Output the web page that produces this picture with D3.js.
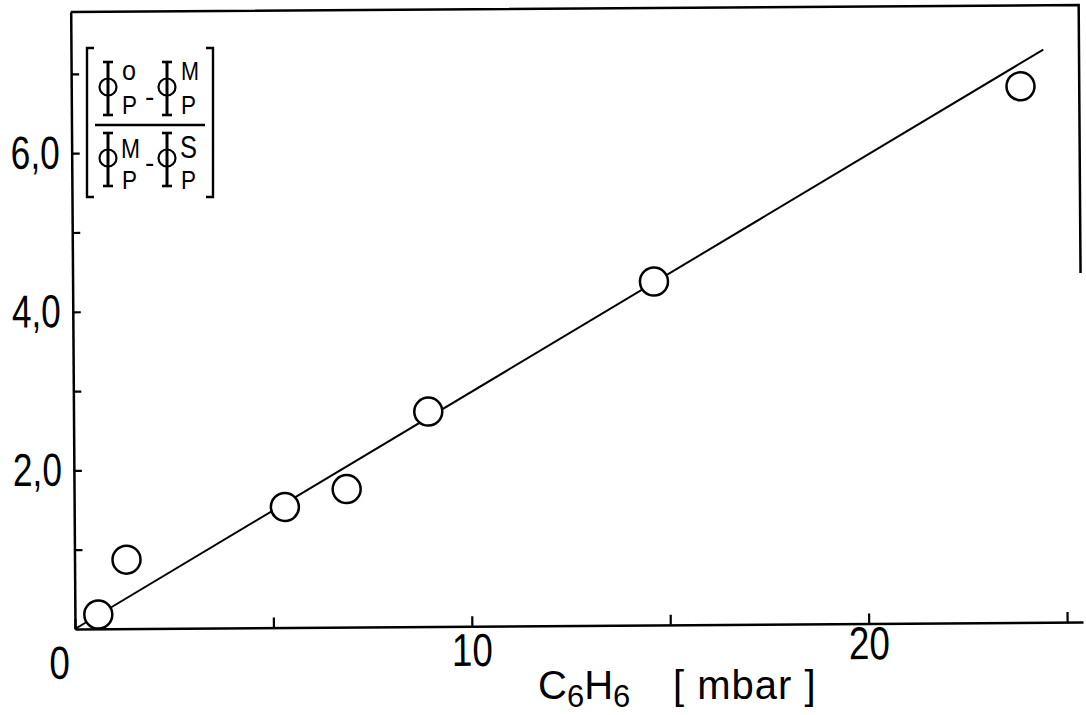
<!DOCTYPE html>
<meta charset="utf-8">
<style>
body { margin: 0; background: #fff; }
svg { display: block; }
.axis path { stroke: #000; stroke-width: 2.5px; fill: none; }
.axis line { stroke: #000; stroke-width: 2.2px; }
.axis text { font-family: "Liberation Sans", sans-serif; font-size: 46px; fill: #000; }
.frame { fill: none; stroke: #000; stroke-width: 2.5px; }
.fitline { fill: none; stroke: #000; stroke-width: 2px; }
.dot { fill: #fff; stroke: #000; stroke-width: 2.5px; }
.legend line, .legend path { stroke: #000; fill: none; }
.legend circle { fill: none; stroke: #000; stroke-width: 2.2px; }
.legend text, .title { font-family: "Liberation Sans", sans-serif; fill: #000; }
</style>
<body>
<script src="https://d3js.org/d3.v7.min.js"></script>
<script>

// measured points: benzene pressure (mbar) and the yield ratio
var pressure = [0.59, 1.31, 5.31, 6.87, 8.94, 14.65, 23.92];
var ratio    = [0.18, 0.87, 1.52, 1.74, 2.71, 4.33, 6.76];

// straight line drawn through the points
var fitX = [0, 24.5];
var fitY = [0, 7.22];

// ticks and labels
var xTicks  = [0, 5, 10, 15, 20, 25];
var xLabels = [0, 10, 20];
var yTicks  = [1, 2, 3, 4, 5, 6, 7];
var yLabels = [2, 4, 6];

var width = 1086, height = 715;

var x = d3.scaleLinear().domain([0, 25.4]).range([75, 1083]);
var y = d3.scaleLinear().domain([0, 7.78]).range([629, 12]);

// the lettering is a narrow stencil face: squeeze the glyphs to its widths
function narrow(s) {
  s = String(s);
  var w = 0;
  for (var i = 0; i < s.length; i++) w += s[i] === "," ? 8 : 20.5;
  return w;
}

var svg = d3.select("body").append("svg")
    .attr("width", width)
    .attr("height", height);

// the scanned figure sits slightly crooked on the page
var plot = svg.append("g")
    .attr("transform", "rotate(-0.4," + x(0) + "," + y(0) + ")");

// x axis, ticks pointing inward; the hand-lettered labels are not quite level
plot.append("g")
    .attr("class", "axis")
    .attr("transform", "translate(0," + y(0) + ")")
    .call(d3.axisBottom(x)
        .tickValues(xTicks)
        .tickSizeInner(-10)
        .tickSizeOuter(0)
        .tickPadding(7)
        .tickFormat(function(d) { return xLabels.indexOf(d) >= 0 ? d : ""; }))
  .selectAll(".tick text")
    .attr("dx", function(d) { return d === 0 ? -16 : 0; })
    .attr("y", function(d) { return d === 0 ? 17 : d === 20 ? 3 : 7; })
    .attr("lengthAdjust", "spacingAndGlyphs")
    .attr("textLength", function(d) { return xLabels.indexOf(d) >= 0 ? narrow(d) : null; });

// y axis, ticks pointing inward, decimal comma
var yFmt = function(d) {
  return yLabels.indexOf(d) >= 0 ? d3.format(".1f")(d).replace(".", ",") : "";
};
plot.append("g")
    .attr("class", "axis")
    .attr("transform", "translate(" + x(0) + ",0)")
    .call(d3.axisLeft(y)
        .tickValues(yTicks)
        .tickSizeInner(-8)
        .tickSizeOuter(0)
        .tickPadding(12)
        .tickFormat(yFmt))
  .selectAll(".tick text")
    .attr("lengthAdjust", "spacingAndGlyphs")
    .attr("textLength", function(d) { return yLabels.indexOf(d) >= 0 ? narrow(yFmt(d)) : null; });

// top border and the short piece of the right border
var rightEdgeStop = 4.4;
var xd = x.domain(), yd = y.domain();
plot.append("path")
    .attr("class", "frame")
    .attr("d", d3.line()([
      [x(xd[0]), y(yd[1])],
      [x(xd[1]), y(yd[1])],
      [x(xd[1]), y(rightEdgeStop)]
    ]));

// fitted line
plot.append("path")
    .datum(fitX.map(function(v, i) { return [v, fitY[i]]; }))
    .attr("class", "fitline")
    .attr("d", d3.line()
        .x(function(d) { return x(d[0]); })
        .y(function(d) { return y(d[1]); }));

// data circles
plot.selectAll(".dot")
    .data(pressure.map(function(v, i) { return [v, ratio[i]]; }))
  .enter().append("circle")
    .attr("class", "dot")
    .attr("r", 14)
    .attr("cx", function(d) { return x(d[0]); })
    .attr("cy", function(d) { return y(d[1]); });

// legend: bracketed ratio of quantum yields
var legend = svg.append("g").attr("class", "legend");

function phi(cx, cy) {
  legend.append("circle").attr("cx", cx).attr("cy", cy).attr("r", 8.5);
  legend.append("line").attr("x1", cx).attr("x2", cx)
      .attr("y1", cy - 25).attr("y2", cy + 28).attr("stroke-width", 3);
  legend.append("line").attr("x1", cx - 5).attr("x2", cx + 5)
      .attr("y1", cy - 25).attr("y2", cy - 25).attr("stroke-width", 2.6);
  legend.append("line").attr("x1", cx - 5).attr("x2", cx + 5)
      .attr("y1", cy + 28).attr("y2", cy + 28).attr("stroke-width", 2.6);
}

function letter(tx, ty, s, size, w) {
  var t = legend.append("text").attr("x", tx).attr("y", ty)
      .style("font-size", size + "px").text(s);
  if (w) t.attr("textLength", w).attr("lengthAdjust", "spacingAndGlyphs");
}

var numSup = ["o", "M"], denSup = ["M", "S"];
var cols = [108, 167];

cols.forEach(function(cx, i) {
  phi(cx, 87);
  letter(cx + 14, 80, numSup[i], i === 0 ? 28 : 26, i === 0 ? 14 : 18);
  letter(cx + 14, 114, "P", 25, 15);
  phi(cx, 158);
  letter(cx + 13, 158, denSup[i], i === 0 ? 27 : 31, i === 0 ? 19 : 17);
  letter(cx + 14, 189, "P", 25, 15);
});
letter(145, 106, "-", 28);
letter(145, 172, "-", 28);

// fraction bar
legend.append("line").attr("x1", 95).attr("x2", 205)
    .attr("y1", 125).attr("y2", 125).attr("stroke-width", 2.5);

// brackets
legend.append("path").attr("stroke-width", 2.4)
    .attr("d", "M94,48H87V197H94");
legend.append("path").attr("stroke-width", 2.4)
    .attr("d", "M206,48H213V197H206");

// x title
var title = svg.append("text")
    .attr("class", "title")
    .attr("x", 538)
    .attr("y", 699)
    .style("font-size", "40px");
title.append("tspan").text("C");
title.append("tspan").attr("dy", 8).style("font-size", "31px").text("6");
title.append("tspan").attr("dy", -8).text("H");
title.append("tspan").attr("dy", 8).style("font-size", "31px").text("6");

svg.append("text")
    .attr("class", "title")
    .attr("x", 673)
    .attr("y", 699)
    .style("font-size", "40px")
    .style("letter-spacing", "1px")
    .text("[ mbar ]");

</script>
</body>
